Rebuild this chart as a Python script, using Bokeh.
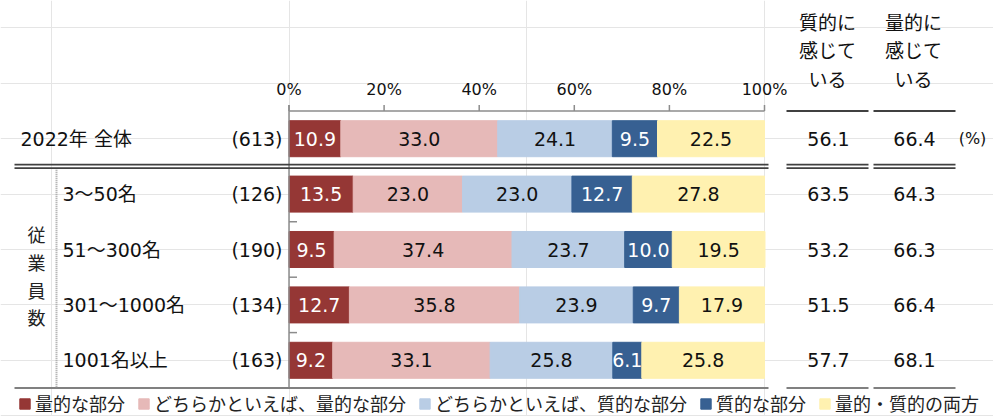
from bokeh.plotting import figure
from bokeh.models import ColumnDataSource, Range1d, Legend, LegendItem
from bokeh.core.properties import value
from bokeh.embed import file_html
from bokeh.resources import INLINE

# ---------------- data ----------------
categories = ["2022年 全体", "3～50名", "51～300名", "301～1000名", "1001名以上"]
sample_n = [613, 126, 190, 134, 163]
series_names = ["量的な部分", "どちらかといえば、量的な部分", "どちらかといえば、質的な部分",
                "質的な部分", "量的・質的の両方"]
quant = [10.9, 13.5, 9.5, 12.7, 9.2]
rather_quant = [33.0, 23.0, 37.4, 35.8, 33.1]
rather_qual = [24.1, 23.0, 23.7, 23.9, 25.8]
qual = [9.5, 12.7, 10.0, 9.7, 6.1]
both = [22.5, 27.8, 19.5, 17.9, 25.8]
feel_qual = [56.1, 63.5, 53.2, 51.5, 57.7]
feel_quant = [66.4, 64.3, 66.3, 66.4, 68.1]
x_ticks = [0, 20, 40, 60, 80, 100]
x_tick_labels = ["0%", "20%", "40%", "60%", "80%", "100%"]
group_label = "従業員数"
col_headers = [["質的に", "感じて", "いる"], ["量的に", "感じて", "いる"]]
unit_label = "(%)"

# ---------------- styles ----------------
colors = ["#953735", "#E6B9B8", "#B9CDE5", "#376092", "#FFF1B0"]
label_colors = ["white", "#111111", "#111111", "white", "#111111"]
FONT_NAME = "DejaVu Sans, Noto Sans CJK JP"
FONT = value(FONT_NAME)
TXT = "#111111"

# ---------------- layout helpers (pixel layout -> data units) ----------------
W, H = 993, 416
OX, OY = 0, 0
X0, KX = 288.5, 4.755
Y0, KY = 138.2, 55.4


def dx(px):
    return (px - X0) / KX


def dy(py):
    return (py - Y0) / KY


p = figure(width=W, height=H, output_backend="svg", toolbar_location=None,
           x_range=Range1d(dx(OX), dx(OX + W)), y_range=Range1d(dy(OY + H), dy(OY)),
           x_axis_location=None, y_axis_location=None, min_border=0,
           outline_line_color=None, background_fill_color="white",
           border_fill_color="white")

rows = list(range(len(categories)))
stackers = ["s%d" % i for i in range(5)]
src = ColumnDataSource(dict(row=rows, s0=quant, s1=rather_quant, s2=rather_qual,
                            s3=qual, s4=both))
renderers = p.hbar_stack(stackers, y="row", height=0.65, color=colors, source=src)

# bar labels
lx, ly, lt, lc = [], [], [], []
all_series = [quant, rather_quant, rather_qual, qual, both]
for r in rows:
    left = 0.0
    for k, s in enumerate(all_series):
        v = s[r]
        lx.append(left + v / 2)
        ly.append(r)
        lt.append("%.1f" % v)
        lc.append(label_colors[k])
        left += v
p.text(x="x", y="y", text="t", text_color="c",
       source=ColumnDataSource(dict(x=lx, y=ly, t=lt, c=lc)),
       text_font=FONT, text_font_size="19px", text_align="center",
       text_baseline="middle")

# axis (top, percent)
AX = "#8C8C8C"
p.segment(x0=[0], y0=[-0.5], x1=[100], y1=[-0.5], line_color=AX, line_width=1.5)
p.segment(x0=x_ticks, y0=[-0.5 - 6 / KY] * len(x_ticks), x1=x_ticks,
          y1=[-0.5] * len(x_ticks), line_color=AX, line_width=1.5)
p.text(x=x_ticks, y=[dy(88.5)] * len(x_ticks), text=x_tick_labels, text_font=FONT,
       text_font_size="16px", text_color=TXT, text_align="center",
       text_baseline="middle")
# category axis (left of bars)
p.segment(x0=[0], y0=[-0.5 - 6 / KY], x1=[0], y1=[len(rows) - 0.5],
          line_color=AX, line_width=1.5)
bnd = [r + 0.5 for r in rows[1:]]
p.segment(x0=[0] * len(bnd), y0=bnd, x1=[8 / KX] * len(bnd), y1=bnd,
          line_color=AX, line_width=1.5)

# separators
sec_x0 = [dx(14), dx(786), dx(873)]
sec_x1 = [dx(768), dx(868), dx(955)]
off = 1.7 / KY
for yy in (0.5 - off, 0.5 + off):
    p.segment(x0=sec_x0, y0=[yy] * 3, x1=sec_x1, y1=[yy] * 3,
              line_color="#404040", line_width=1.8)
p.segment(x0=sec_x0[1:], y0=[-0.5] * 2, x1=sec_x1[1:], y1=[-0.5] * 2,
          line_color="#404040", line_width=2)
p.segment(x0=sec_x0, y0=[len(rows) - 0.5] * 3, x1=sec_x1, y1=[len(rows) - 0.5] * 3,
          line_color="#808080", line_width=2)
p.segment(x0=[dx(56)], y0=[0.5 + 2 * off], x1=[dx(56)], y1=[len(rows) - 0.5],
          line_color="#A0A0A0", line_width=2, line_dash="1 1")

# row labels
label_x = [dx(20)] + [dx(62)] * (len(rows) - 1)
p.text(x=label_x, y=rows, text=categories, text_font=FONT, text_font_size="19px",
       text_color=TXT, text_align="left", text_baseline="middle")
p.text(x=[dx(282)] * len(rows), y=rows, text=["(%d)" % n for n in sample_n],
       text_font=FONT, text_font_size="19px", text_color=TXT, text_align="right",
       text_baseline="middle")

# vertical group label
gy_center = (rows[1] + rows[-1]) / 2
step = 27.7 / KY
gchars = list(group_label)
p.text(x=[dx(36)] * len(gchars),
       y=[gy_center + (k - (len(gchars) - 1) / 2) * step for k in range(len(gchars))],
       text=gchars, text_font=FONT, text_font_size="18px", text_color="#222222",
       text_align="center", text_baseline="middle")

# right columns
col_x = [dx(828), dx(914)]
for cx, vals in zip(col_x, [feel_qual, feel_quant]):
    p.text(x=[cx] * len(rows), y=rows, text=["%.1f" % v for v in vals],
           text_font=FONT, text_font_size="19px", text_color=TXT,
           text_align="center", text_baseline="middle")
head_y = [dy(22), dy(50.5), dy(79)]
for cx, lines in zip([dx(827), dx(913)], col_headers):
    p.text(x=[cx] * len(lines), y=head_y, text=lines, text_font=FONT,
           text_font_size="19px", text_color=TXT, text_align="center",
           text_baseline="middle")
p.text(x=[dx(972)], y=[rows[0]], text=[unit_label], text_font=FONT,
       text_font_size="16px", text_color=TXT, text_align="center",
       text_baseline="middle")

# legend
legend = Legend(items=[LegendItem(label=n, renderers=[r])
                       for n, r in zip(series_names, renderers)],
                orientation="horizontal", location=(18, 0),
                glyph_width=13, glyph_height=13, label_standoff=4, spacing=12,
                padding=0, margin=0, border_line_color=None,
                background_fill_alpha=0, label_text_font=FONT_NAME,
                label_text_font_size="18px", label_text_color="#222222",
                label_text_baseline="middle")
p.add_layout(legend)

open("out.html", "w").write(file_html(p, INLINE))
